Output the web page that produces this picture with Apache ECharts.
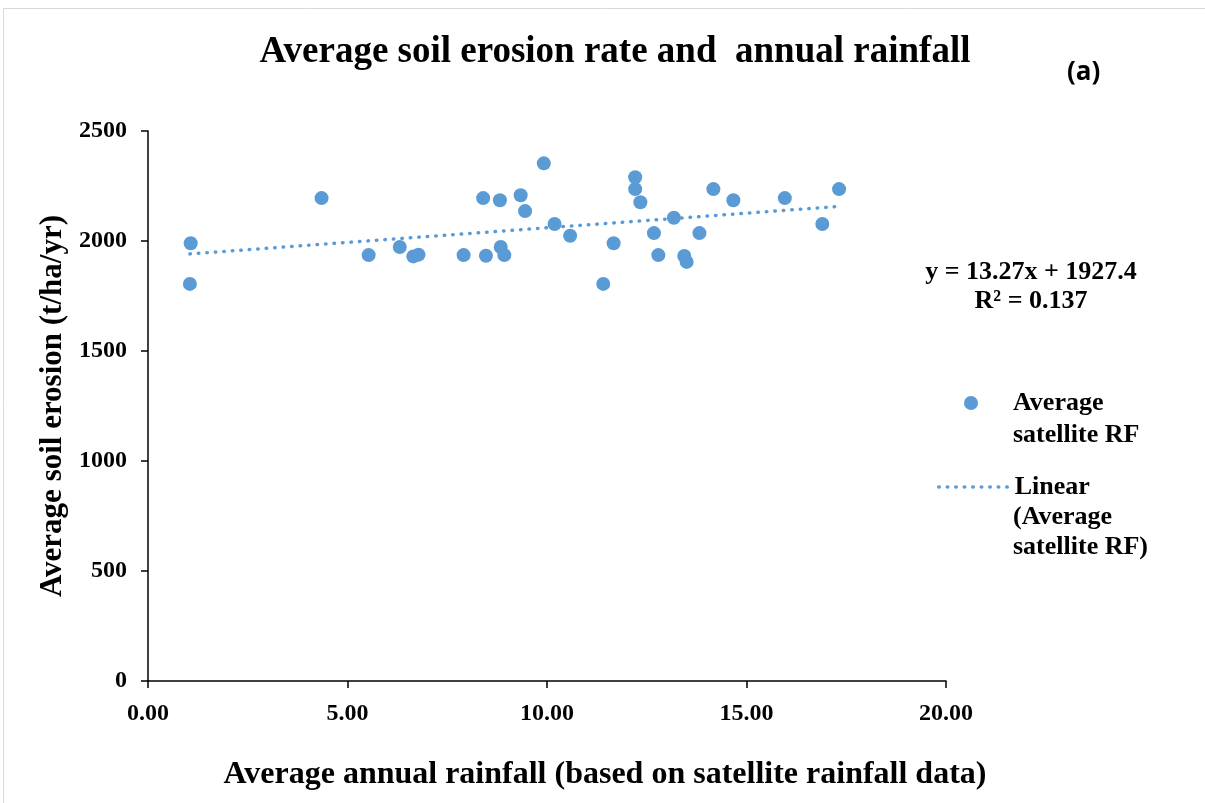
<!DOCTYPE html>
<html>
<head>
<meta charset="utf-8">
<script src="https://cdn.jsdelivr.net/npm/echarts@6/dist/echarts.min.js"></script>
<style>
html,body{margin:0;padding:0;background:#fff;}
#chart{width:1205px;height:803px;}
</style>
</head>
<body>
<div id="chart"></div>
<script>
// ---- data ----
var rainfall = [1.07,1.05,4.35,5.53,6.31,6.65,6.78,7.91,8.40,8.47,8.82,8.84,8.93,9.34,9.45,9.92,10.19,10.58,11.41,11.67,12.21,12.21,12.34,12.68,12.79,13.18,13.44,13.50,13.82,14.17,14.67,15.96,16.90,17.32];
var erosion  = [1990,1805,2195,1936,1973,1930,1938,1936,2195,1933,2185,1973,1936,2208,2136,2353,2077,2024,1805,1990,2290,2236,2176,2036,1936,2106,1932,1905,2036,2236,2185,2195,2077,2236];
var trendSlope = 13.27;
var trendIntercept = 1927.4;
var equationText = 'y = 13.27x + 1927.4';
var r2Text = 'R\u00b2 = 0.137';
var seriesName = 'Average satellite RF';
var trendName = 'Linear (Average satellite RF)';

var pts = rainfall.map(function (x, i) { return [x, erosion[i]]; });
var xmin = Math.min.apply(null, rainfall), xmax = Math.max.apply(null, rainfall);
var trend = [[xmin, trendIntercept + trendSlope * xmin], [xmax, trendIntercept + trendSlope * xmax]];

var serif = "'Liberation Serif','Times New Roman',serif";
var blue = '#5b9bd5';

var chart = echarts.init(document.getElementById('chart'), null, {renderer: 'canvas'});
chart.setOption({
  backgroundColor: '#fff',
  animation: false,
  title: {
    text: 'Average soil erosion rate and  annual rainfall',
    left: 610, top: 29, textAlign: 'center',
    textStyle: {fontFamily: serif, fontWeight: 'bold', fontSize: 37, color: '#000'}
  },
  grid: {left: 148, right: 259, top: 131, bottom: 122, containLabel: false},
  xAxis: {
    type: 'value', min: 0, max: 20, interval: 5,
    name: 'Average annual rainfall (based on satellite rainfall data)',
    nameLocation: 'middle', nameGap: 78,
    nameTextStyle: {fontFamily: serif, fontWeight: 'bold', fontSize: 32, color: '#000', padding: [0, 0, 0, 116]},
    axisLine: {lineStyle: {color: '#000', width: 1.5}},
    axisTick: {show: true, length: 7, lineStyle: {color: '#000', width: 1.5}},
    axisLabel: {fontFamily: serif, fontWeight: 'bold', fontSize: 24, color: '#000', margin: 21,
      formatter: function (v) { return v.toFixed(2); }},
    splitLine: {show: false}
  },
  yAxis: {
    type: 'value', min: 0, max: 2500, interval: 500,
    name: 'Average soil erosion (t/ha/yr)',
    nameLocation: 'middle', nameGap: 58, nameRotate: 90,
    nameTextStyle: {fontFamily: serif, fontWeight: 'bold', fontSize: 31, color: '#000'},
    axisLine: {show: true, lineStyle: {color: '#000', width: 1.5}},
    axisTick: {show: true, length: 7, lineStyle: {color: '#000', width: 1.5}},
    axisLabel: {fontFamily: serif, fontWeight: 'bold', fontSize: 24, color: '#000', margin: 21,
      formatter: function (v) { return String(v); }},
    splitLine: {show: false}
  },
  legend: [
    {
      data: [{name: seriesName, icon: 'circle'}],
      left: 964, top: 389, padding: 0, orient: 'vertical',
      itemWidth: 14, itemHeight: 14,
      formatter: function () { return 'Average'; },
      textStyle: {fontFamily: serif, fontWeight: 'bold', fontSize: 26, color: '#000', lineHeight: 28, padding: [0, 0, 0, 30]}
    },
    {
      data: [{name: trendName}],
      left: 937, top: 473, padding: 0, orient: 'vertical',
      itemWidth: 69, itemHeight: 14,
      itemStyle: {color: 'rgba(0,0,0,0)', borderWidth: 0},
      lineStyle: {color: blue, width: 3.5, type: [0.5, 8], cap: 'round'},
      formatter: function () { return 'Linear'; },
      textStyle: {fontFamily: serif, fontWeight: 'bold', fontSize: 26, color: '#000', lineHeight: 28, padding: [0, 0, 0, 2]}
    }
  ],
  graphic: [
    {type: 'rect', silent: true, z: -10, shape: {x: 3.5, y: 8.5, width: 1300, height: 900},
      style: {fill: 'none', stroke: '#d9d9d9', lineWidth: 1}},
    {type: 'text', left: 1067, top: 60, style: {text: '(a)', font: "bold 26px 'Open Sans', sans-serif", fill: '#000'}},
    {type: 'text', x: 1031, y: 272, style: {text: equationText, textAlign: 'center', textVerticalAlign: 'middle',
      font: 'bold 26px ' + serif, fill: '#000'}},
    {type: 'text', x: 1031, y: 301, style: {text: r2Text, textAlign: 'center', textVerticalAlign: 'middle',
      font: 'bold 26px ' + serif, fill: '#000'}},
    {type: 'text', x: 1013, y: 435, style: {text: 'satellite RF', textVerticalAlign: 'middle',
      font: 'bold 26px ' + serif, fill: '#000'}},
    {type: 'text', x: 1013, y: 517, style: {text: '(Average', textVerticalAlign: 'middle',
      font: 'bold 26px ' + serif, fill: '#000'}},
    {type: 'text', x: 1013, y: 547, style: {text: 'satellite RF)', textVerticalAlign: 'middle',
      font: 'bold 26px ' + serif, fill: '#000'}}
  ],
  series: [
    {
      name: trendName, type: 'line', data: trend, symbol: 'none', z: 1,
      lineStyle: {color: blue, width: 3.5, type: [0.5, 8], cap: 'round'},
      itemStyle: {color: blue}
    },
    {
      name: seriesName, type: 'scatter', data: pts, symbol: 'circle', symbolSize: 14, z: 2,
      itemStyle: {color: blue, opacity: 1}
    }
  ]
});
</script>
</body>
</html>
